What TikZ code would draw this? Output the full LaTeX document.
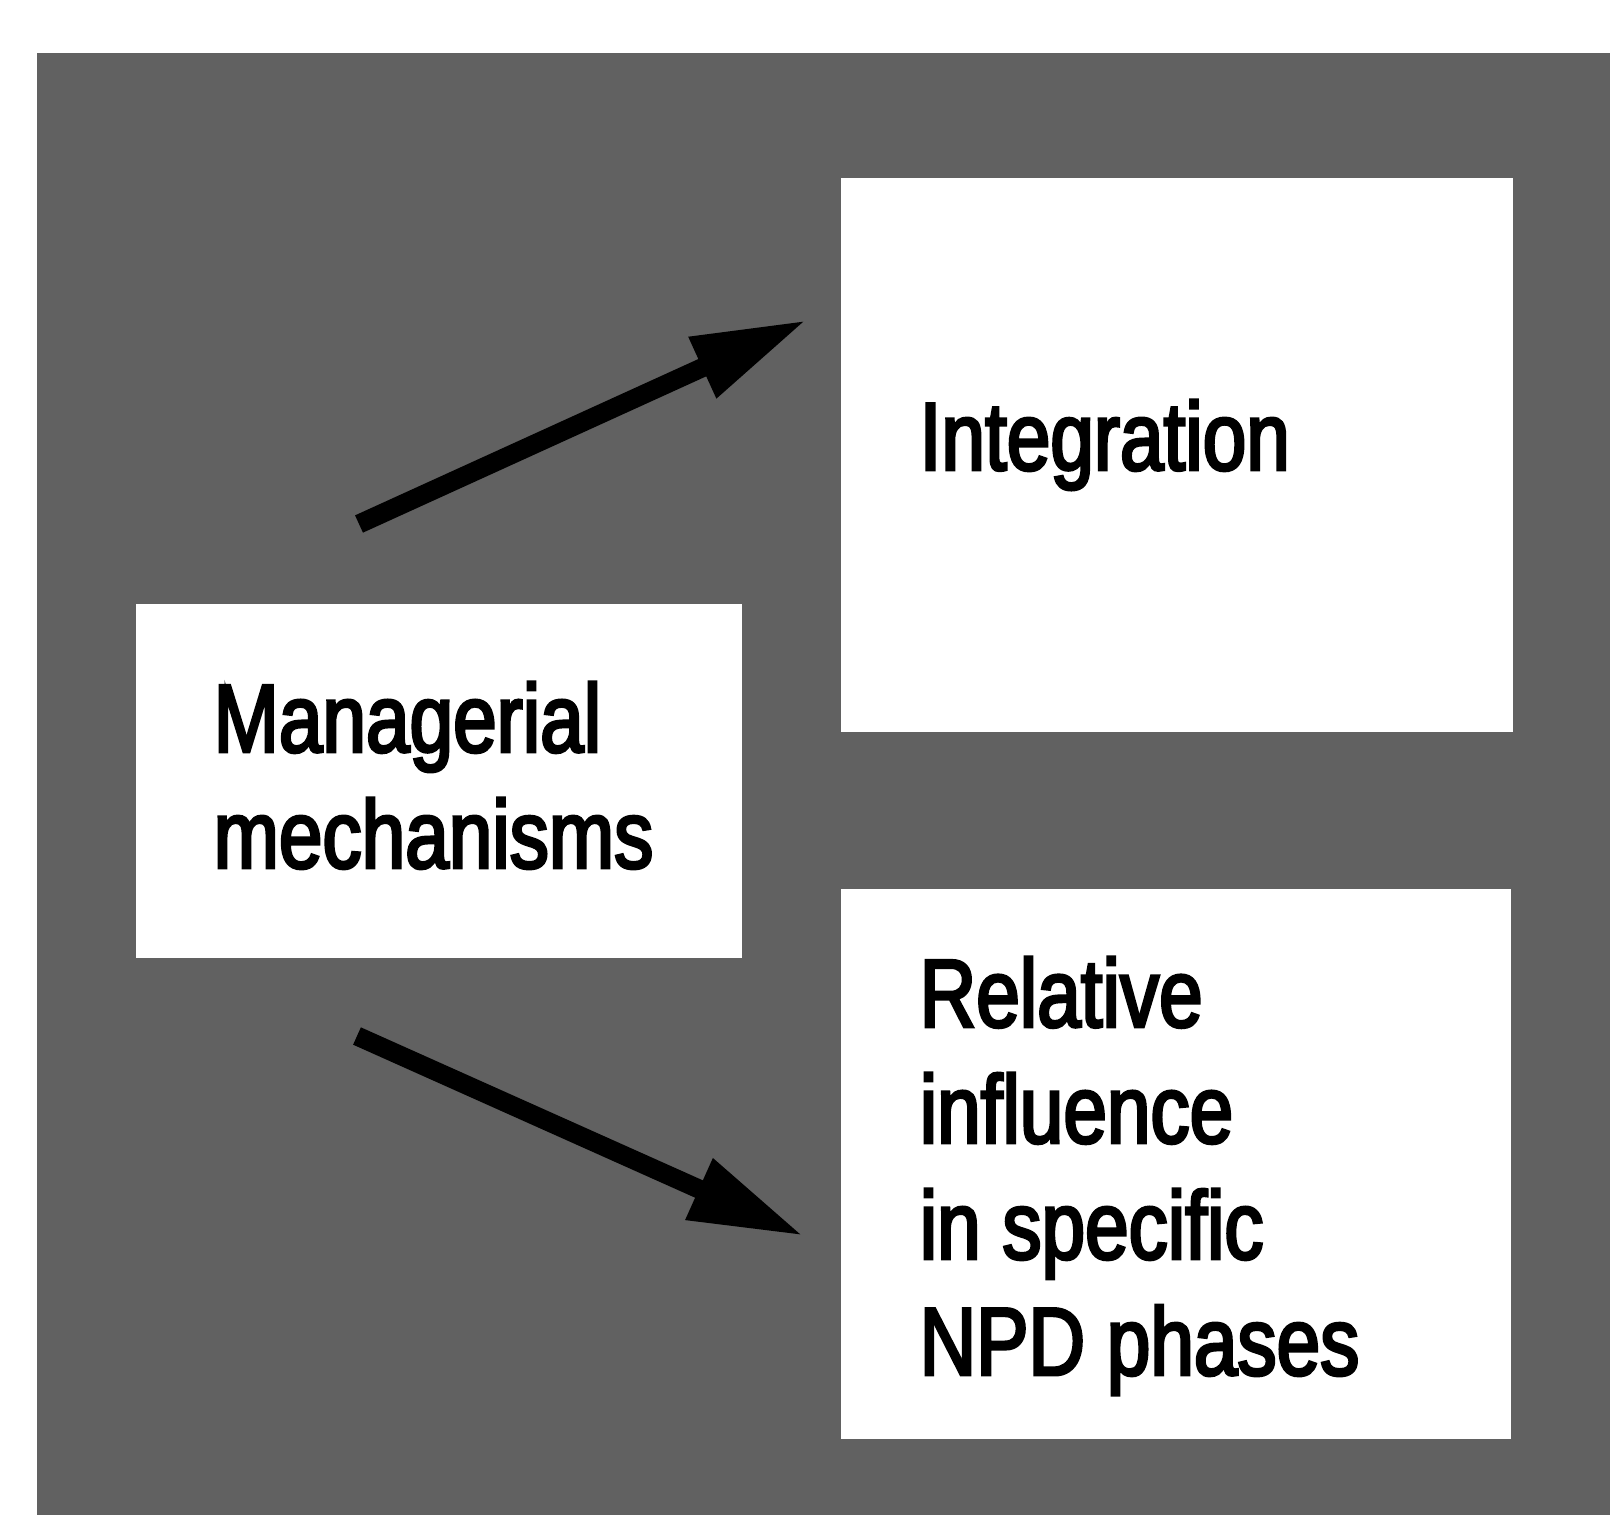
\documentclass[tikz,border=0pt]{standalone}
\usepackage{fontspec}
\setmainfont{Liberation Sans}[FakeStretch=0.81, FakeBold=3]
\usetikzlibrary{arrows.meta}

\definecolor{screen}{gray}{0.38}

\tikzset{
  panel/.style={fill=white, draw=none, inner sep=0pt, anchor=north west},
  boxtext/.style={anchor=base west, inner sep=0pt, align=left,
    font=\fontsize{27.5}{33}\selectfont},
  flow/.style={line width=0.19cm, line cap=butt,
    -{Triangle[length=1.15cm, width=0.62cm]}}
}

\begin{document}
\begin{tikzpicture}[x=0.01cm, y=-0.01cm]
  % page frame and screened background
  \useasboundingbox (0,0) rectangle (1610,1515);
  \fill[screen] (37,53) rectangle (1610,1515);

  % white panels
  \node[panel, minimum width=6.06cm, minimum height=3.54cm] (mgr) at (135,603) {};
  \node[panel, minimum width=6.72cm, minimum height=5.54cm] (integ) at (840,177) {};
  \node[panel, minimum width=6.70cm, minimum height=5.50cm] (rel) at (840,888) {};

  % panel texts (anchored at the baseline of the last line)
  \node[boxtext] (mgrtext) at (213,868) {Managerial\\mechanisms};
  \node[boxtext] (integtext) at (919,470) {Integration};
  \node[boxtext] (reltext) at (919,1375) {Relative\\influence\\in specific\\NPD phases};

  % arrow ends
  \coordinate (a1s) at (359,524);
  \coordinate (a1e) at (807,320);
  \coordinate (a2s) at (357,1036);
  \coordinate (a2e) at (804,1236);

  \draw[flow] (a1s) -- (a1e);
  \draw[flow] (a2s) -- (a2e);
\end{tikzpicture}
\end{document}
